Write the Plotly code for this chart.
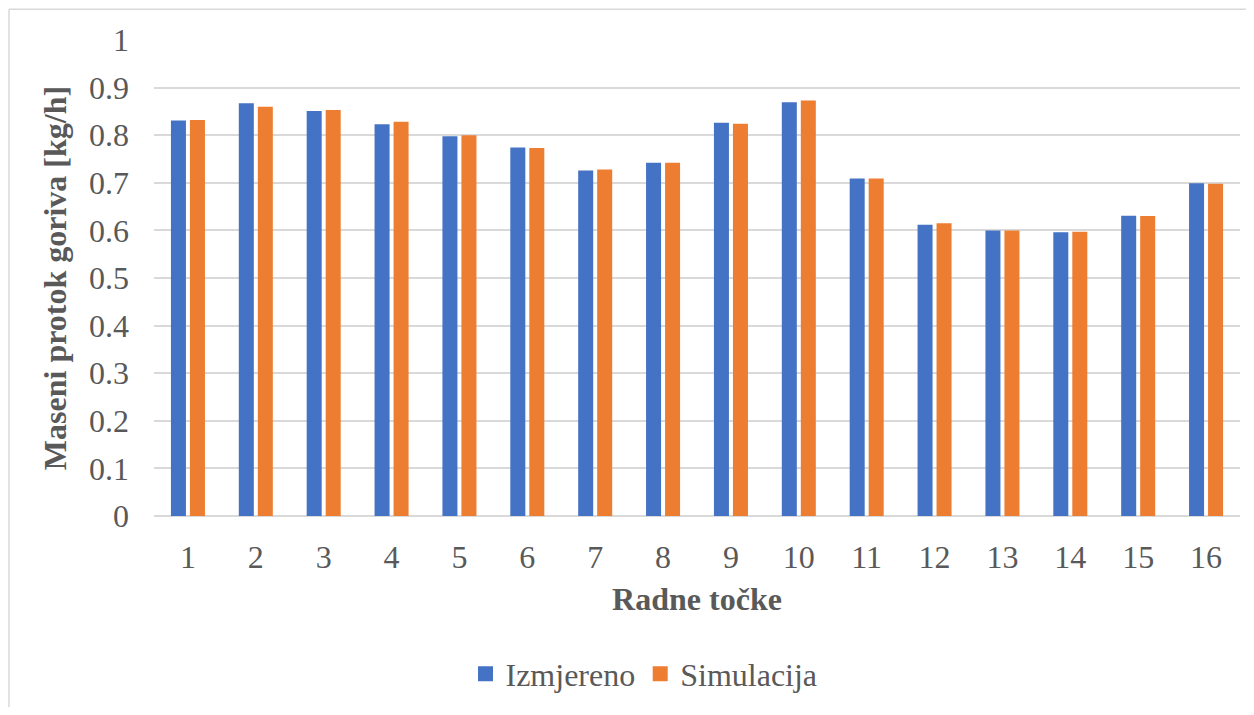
import plotly.graph_objects as go

categories = [str(i) for i in range(1, 17)]
izmjereno = [0.831, 0.867, 0.851, 0.823, 0.798, 0.774, 0.726, 0.742,
             0.826, 0.869, 0.709, 0.612, 0.600, 0.596, 0.631, 0.699]
simulacija = [0.832, 0.860, 0.853, 0.828, 0.800, 0.773, 0.728, 0.742,
              0.824, 0.873, 0.709, 0.615, 0.600, 0.597, 0.630, 0.698]
y_ticks = [0, 0.1, 0.2, 0.3, 0.4, 0.5, 0.6, 0.7, 0.8, 0.9, 1]
y_tick_text = ["0", "0.1", "0.2", "0.3", "0.4", "0.5", "0.6", "0.7", "0.8", "0.9", "1"]

FONT = "Liberation Serif, Times New Roman, serif"
TXT = "#595959"
FS = 32
BLUE, ORANGE = "#4472C4", "#ED7D31"

fig = go.Figure()
fig.add_trace(go.Bar(x=categories, y=izmjereno, name="Izmjereno", showlegend=False,
                     marker=dict(color=BLUE, line=dict(width=0))))
fig.add_trace(go.Bar(x=categories, y=simulacija, name="Simulacija", showlegend=False,
                     marker=dict(color=ORANGE, line=dict(width=0))))
# legend entries with larger square swatches
fig.add_trace(go.Scatter(x=[None], y=[None], mode="markers", name="Izmjereno",
                         marker=dict(symbol="square", size=15, color=BLUE)))
fig.add_trace(go.Scatter(x=[None], y=[None], mode="markers", name="Simulacija",
                         marker=dict(symbol="square", size=15, color=ORANGE)))

OFF = 8  # page body margin
W, H = 1238, 699
L, T = 154 - OFF, 40 - OFF
R = W - (1240 - OFF)
B = H - (519 - OFF)
pw, ph = W - L - R, H - T - B


def px_x(p):
    return (p - OFF - L) / pw


def px_y(p):
    return (H - B - (p - OFF)) / ph


fig.update_layout(
    width=W, height=H,
    margin=dict(l=L, r=R, t=T, b=B),
    paper_bgcolor="white", plot_bgcolor="white",
    barmode="group", bargap=0.44, bargroupgap=0.21,
    font=dict(family=FONT, color=TXT, size=FS),
    showlegend=True,
    legend=dict(orientation="h", x=px_x(644), y=px_y(678), xanchor="center",
                yanchor="middle", font=dict(family=FONT, size=FS, color=TXT),
                itemwidth=30, tracegroupgap=0),
    xaxis=dict(
        type="category",
        showgrid=False, showline=False, zeroline=False, ticks="",
        tickfont=dict(family=FONT, size=FS, color=TXT),
        ticklabelstandoff=19,
        title=dict(text="<b>Radne točke</b>", font=dict(family=FONT, size=FS, color=TXT),
                   standoff=13),
    ),
    yaxis=dict(
        range=[0, 1], tickvals=y_ticks, ticktext=y_tick_text,
        showgrid=True, gridcolor="#D9D9D9", gridwidth=1.5,
        zeroline=True, zerolinecolor="#D9D9D9", zerolinewidth=1.5,
        showline=False, ticks="",
        tickfont=dict(family=FONT, size=FS, color=TXT),
        ticklabelstandoff=24,
        title=dict(text="<b>Maseni protok goriva [kg/h]</b>",
                   font=dict(family=FONT, size=FS, color=TXT), standoff=12),
    ),
    shapes=[
        dict(type="line", xref="paper", yref="paper",
             x0=px_x(9), x1=px_x(1260), y0=px_y(9), y1=px_y(9),
             line=dict(color="#D9D9D9", width=1.5), layer="below"),
        dict(type="line", xref="paper", yref="paper",
             x0=px_x(9), x1=px_x(9), y0=px_y(9), y1=px_y(730),
             line=dict(color="#D9D9D9", width=1.5), layer="below"),
    ],
)

fig.write_html("out.html")
